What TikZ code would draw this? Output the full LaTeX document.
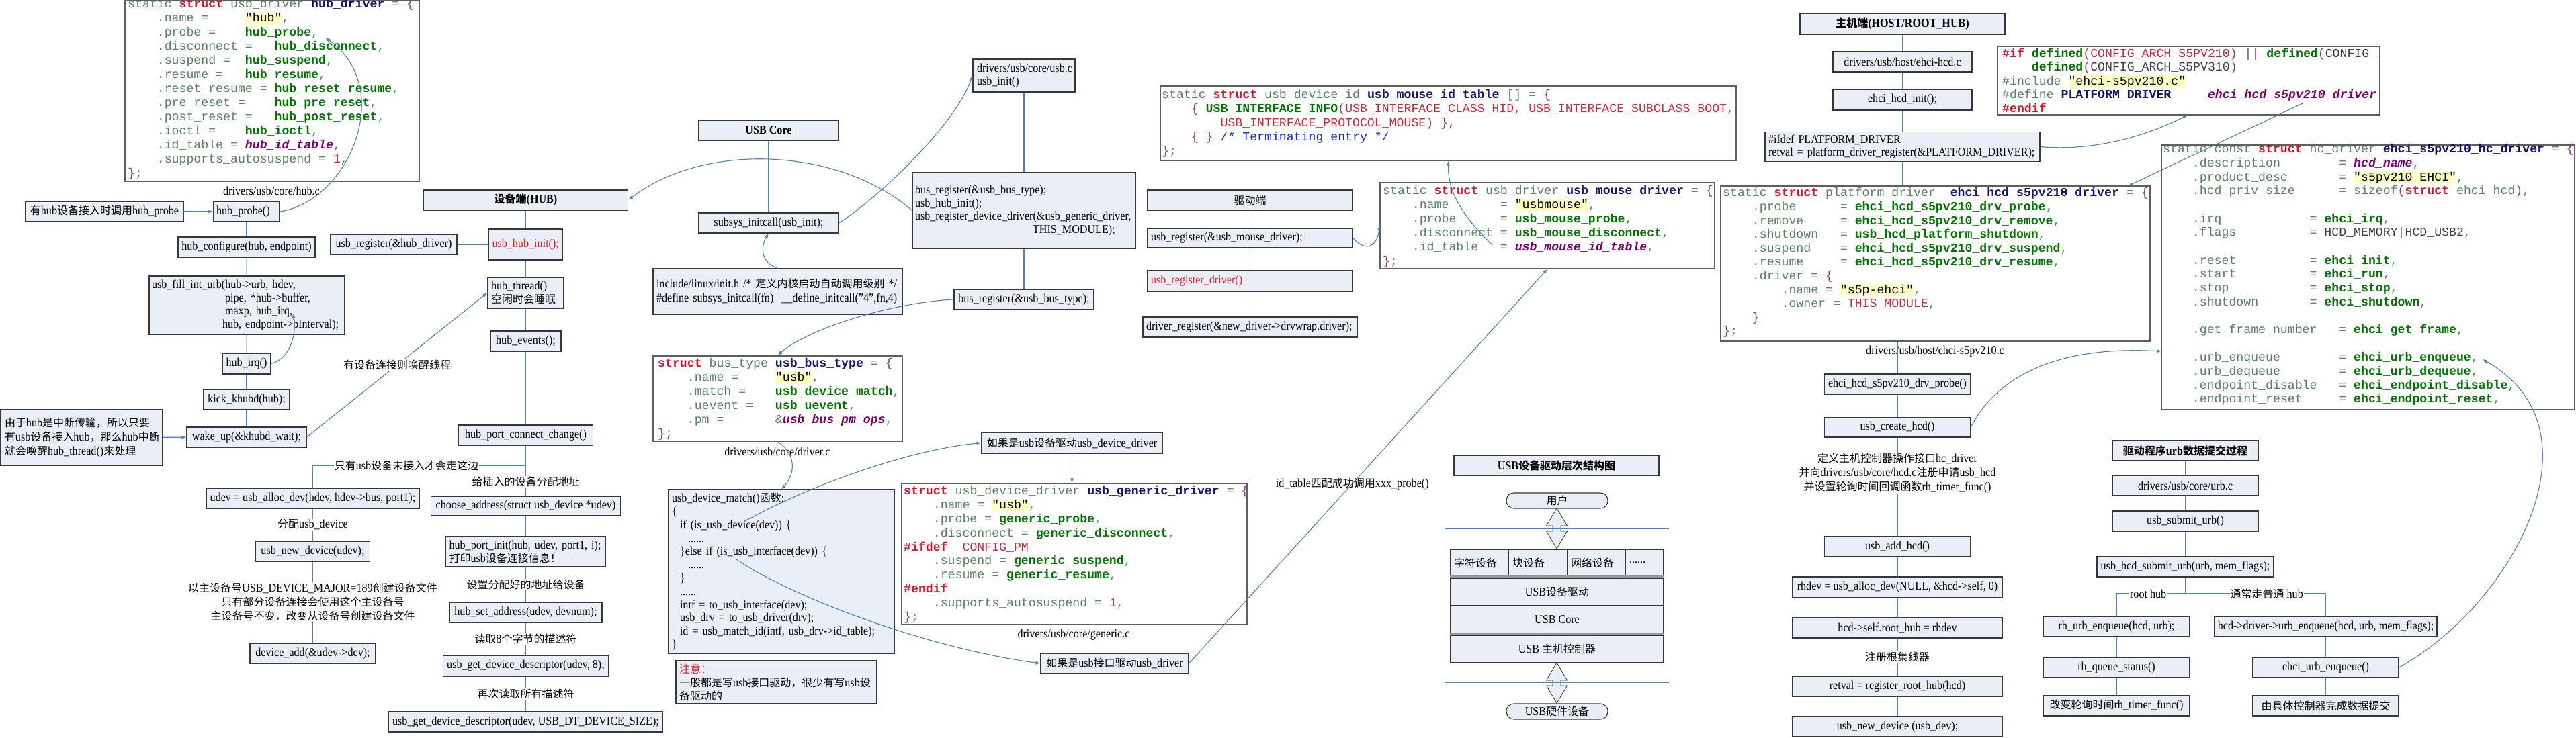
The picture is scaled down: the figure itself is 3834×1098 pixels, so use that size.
\documentclass[tikz,border=0pt]{standalone}
\usepackage{fontspec}
\setmainfont{Liberation Serif}[Scale=1.12,FakeStretch=0.9]
\newfontfamily\cjk{Noto Sans CJK SC}
\newfontfamily\codef{Liberation Mono}
\usetikzlibrary{arrows.meta,positioning}
\definecolor{boxfill}{RGB}{233,238,247}
\definecolor{boxline}{RGB}{55,55,55}
\definecolor{codeline}{RGB}{95,95,95}
\definecolor{linkc}{RGB}{79,129,189}
\definecolor{redtxt}{RGB}{230,30,40}
\definecolor{cplain}{RGB}{88,130,98}
\definecolor{colkw}{RGB}{215,20,45}
\definecolor{colid}{RGB}{20,20,110}
\definecolor{colfn}{RGB}{0,118,0}
\definecolor{colhl}{RGB}{255,255,195}
\definecolor{colmac}{RGB}{125,0,115}
\definecolor{colnum}{RGB}{205,40,60}
\definecolor{colbr}{RGB}{140,60,140}
\definecolor{colcmt}{RGB}{20,40,220}
\newlength\cw
\setlength\cw{10.92pt}
\newcommand\zh[1]{{\cjk #1}}
\newcommand\ckw[1]{\textcolor{colkw}{\bfseries #1}}
\newcommand\cnm[1]{\textcolor{colid}{\bfseries #1}}
\newcommand\cfn[1]{\textcolor{colfn}{\bfseries #1}}
\newcommand\cstr[1]{{\fboxsep=0pt\colorbox{colhl}{\rule[-4pt]{0pt}{18pt}\textcolor{black}{#1}}}}
\newcommand\cmac[1]{\textcolor{colmac}{\bfseries\itshape #1}}
\newcommand\cred[1]{\textcolor{colnum}{#1}}
\newcommand\cbra[1]{\textcolor{colbr}{#1}}
\newcommand\ccmt[1]{\textcolor{colcmt}{#1}}
\newcommand\csk[1]{\hspace*{#1\cw}}
\begin{document}
\catcode`\_=12
\begin{tikzpicture}[x=1pt,y=-1pt,
  >={Latex[length=7pt,width=5.5pt]},
  blk/.style={draw=boxline,fill=boxfill,line width=1.1pt,inner sep=4pt,align=center,font=\fontsize{16}{20}\selectfont},
  blkl/.style={blk,align=left,text width=#1},
  codebox/.style={draw=codeline,fill=white,line width=1.4pt,inner sep=0pt},
  codetext/.style={font=\codef\fontsize{18.2}{#1}\selectfont\frenchspacing,text=cplain,align=left,inner sep=0pt,anchor=north west,execute at begin node=\strut},
  codetext/.default=21,
  lbl/.style={font=\fontsize{16}{21}\selectfont,align=center,inner sep=1pt},
  lblw/.style={lbl,fill=white},
  conn/.style={draw=linkc,line width=1.1pt}]
\fill[white] (0,0) rectangle (3834,1098);
\useasboundingbox (0,0) rectangle (3834,1098);

% code listings
\node[codebox,minimum width=438pt,minimum height=269pt] (hubdrv) at (405,135.5) {};
\node[codetext] (hubdrvtxt) at (190,-1.7) {static \ckw{struct} usb_driver \cnm{hub_driver} = \cbra{\{}\\
\csk{4}.name =\csk{5}\cstr{"hub"},\\
\csk{4}.probe =\csk{4}\cfn{hub_probe},\\
\csk{4}.disconnect =\csk{3}\cfn{hub_disconnect},\\
\csk{4}.suspend =\csk{2}\cfn{hub_suspend},\\
\csk{4}.resume =\csk{3}\cfn{hub_resume},\\
\csk{4}.reset_resume = \cfn{hub_reset_resume},\\
\csk{4}.pre_reset =\csk{4}\cfn{hub_pre_reset},\\
\csk{4}.post_reset =\csk{3}\cfn{hub_post_reset},\\
\csk{4}.ioctl =\csk{4}\cfn{hub_ioctl},\\
\csk{4}.id_table = \cmac{hub_id_table},\\
\csk{4}.supports_autosuspend = \cred{1},\\
\cbra{\}};};
\node[lbl] (hubfile) at (404,284) {drivers/usb/core/hub.c};

\node[codebox,minimum width=371pt,minimum height=127pt] (bustype) at (1157.5,593.5) {};
\node[codetext] (bustypetxt) at (979,533.3) {\ckw{struct} bus_type \cnm{usb_bus_type} = \cbra{\{}\\
\csk{4}.name =\csk{5}\cstr{"usb"},\\
\csk{4}.match =\csk{4}\cfn{usb_device_match},\\
\csk{4}.uevent =\csk{3}\cfn{usb_uevent},\\
\csk{4}.pm =\csk{7}\&\cmac{usb_bus_pm_ops},\\
\cbra{\}};};
\node[lbl] (drvfile) at (1157,672) {drivers/usb/core/driver.c};

\node[codebox,minimum width=857pt,minimum height=111pt] (idtab) at (2155.5,183.5) {};
\node[codetext] (idtabtxt) at (1729,133.3) {static \ckw{struct} usb_device_id \cnm{usb_mouse_id_table} [] = \cbra{\{}\\
\csk{4}\cbra{\{} \cfn{USB_INTERFACE_INFO}\cbra{(}\cred{USB_INTERFACE_CLASS_HID, USB_INTERFACE_SUBCLASS_BOOT,}\\
\csk{8}\cred{USB_INTERFACE_PROTOCOL_MOUSE}\cbra{) \},}\\
\csk{4}\cbra{\{ \}} \ccmt{/* Terminating entry */}\\
\cbra{\}};};

\node[codebox,minimum width=498pt,minimum height=128pt] (mousedrv) at (2303,336) {};
\node[codetext] (mousedrvtxt) at (2058,276.3) {static \ckw{struct} usb_driver \cnm{usb_mouse_driver} = \cbra{\{}\\
\csk{4}.name\csk{7}= \cstr{"usbmouse"},\\
\csk{4}.probe\csk{6}= \cfn{usb_mouse_probe},\\
\csk{4}.disconnect = \cfn{usb_mouse_disconnect},\\
\csk{4}.id_table\csk{3}= \cmac{usb_mouse_id_table},\\
\cbra{\}};};

\node[codebox,minimum width=514pt,minimum height=210pt] (generic) at (1599,825) {};
\node[codetext=20.8] (generictxt) at (1345,723.4) {\ckw{struct} usb_device_driver \cnm{usb_generic_driver} = \cbra{\{}\\
\csk{4}.name = \cstr{"usb"},\\
\csk{4}.probe = \cfn{generic_probe},\\
\csk{4}.disconnect = \cfn{generic_disconnect},\\
\ckw{\#ifdef}\csk{2}\cred{CONFIG_PM}\\
\csk{4}.suspend = \cfn{generic_suspend},\\
\csk{4}.resume = \cfn{generic_resume},\\
\ckw{\#endif}\\
\csk{4}.supports_autosuspend = \cred{1},\\
\cbra{\}};};
\node[lbl] (genfile) at (1598,945) {drivers/usb/core/generic.c};

\node[codebox,minimum width=569pt,minimum height=102pt] (ifdef) at (3257.5,120) {};
\node[codetext=20.5] (ifdeftxt) at (2980,71.6) {\ckw{\#if} \cfn{defined}\cbra{(}\cred{CONFIG_ARCH_S5PV210}\cbra{)} \cbra{||} \cfn{defined}\cbra{(}\textcolor{black!75}{CONFIG_}\\
\csk{4}\cfn{defined}\cbra{(}\textcolor{black!75}{CONFIG_ARCH_S5PV310}\cbra{)}\\
\#include \cstr{"ehci-s5pv210.c"}\\
\#define \cnm{PLATFORM_DRIVER}\csk{5}\cmac{ehci_hcd_s5pv210_driver}\\
\ckw{\#endif}};

\node[codebox,minimum width=639pt,minimum height=231pt] (s5pdrv) at (2880.5,392.5) {};
\node[codetext=20.6] (s5pdrvtxt) at (2564,279.6) {static \ckw{struct} platform_driver\csk{2}\cnm{ehci_hcd_s5pv210_driver} = \cbra{\{}\\
\csk{4}.probe\csk{6}= \cfn{ehci_hcd_s5pv210_drv_probe},\\
\csk{4}.remove\csk{5}= \cfn{ehci_hcd_s5pv210_drv_remove},\\
\csk{4}.shutdown\csk{3}= \cfn{usb_hcd_platform_shutdown},\\
\csk{4}.suspend\csk{4}= \cfn{ehci_hcd_s5pv210_drv_suspend},\\
\csk{4}.resume\csk{5}= \cfn{ehci_hcd_s5pv210_drv_resume},\\
\csk{4}.driver = \cbra{\{}\\
\csk{8}.name = \cstr{"s5p-ehci"},\\
\csk{8}.owner = \cred{THIS_MODULE},\\
\csk{4}\cbra{\}}\\
\cbra{\}};};
\node[lbl] (s5pfile) at (2880,523) {drivers/usb/host/ehci-s5pv210.c};

\node[codebox,minimum width=615pt,minimum height=394pt] (hcdrv) at (3524.5,413) {};
\node[codetext=20.67] (hcdrvtxt) at (3219,214.5) {static const \ckw{struct} hc_driver \cnm{ehci_s5pv210_hc_driver} = \cbra{\{}\\
\csk{4}.description\csk{8}= \cmac{hcd_name},\\
\csk{4}.product_desc\csk{7}= \cstr{"s5pv210 EHCI"},\\
\csk{4}.hcd_priv_size\csk{6}= sizeof\cbra{(}\ckw{struct} ehci_hcd\cbra{)},\\
\strut\\
\csk{4}.irq\csk{12}= \cfn{ehci_irq},\\
\csk{4}.flags\csk{10}= \textcolor{black!75}{HCD_MEMORY}\cbra{|}\textcolor{black!75}{HCD_USB2},\\
\strut\\
\csk{4}.reset\csk{10}= \cfn{ehci_init},\\
\csk{4}.start\csk{10}= \cfn{ehci_run},\\
\csk{4}.stop\csk{11}= \cfn{ehci_stop},\\
\csk{4}.shutdown\csk{7}= \cfn{ehci_shutdown},\\
\strut\\
\csk{4}.get_frame_number\csk{3}= \cfn{ehci_get_frame},\\
\strut\\
\csk{4}.urb_enqueue\csk{8}= \cfn{ehci_urb_enqueue},\\
\csk{4}.urb_dequeue\csk{8}= \cfn{ehci_urb_dequeue},\\
\csk{4}.endpoint_disable\csk{3}= \cfn{ehci_endpoint_disable},\\
\csk{4}.endpoint_reset\csk{5}= \cfn{ehci_endpoint_reset},};

% hub side
\node[blk,minimum width=235pt,minimum height=30pt] (note1) at (155.5,315) {\zh{有}hub\zh{设备接入时调用}hub_probe};
\node[blkl=90pt,minimum width=98pt,minimum height=30pt] (hubprobe) at (367,315) {hub_probe()};
\node[blk,minimum width=204pt,minimum height=30pt] (hubcfg) at (367,368) {hub_configure(hub, endpoint)};
\node[blkl=283pt,minimum width=291pt,minimum height=87pt,font=\fontsize{16}{19.5}\selectfont] (fillurb) at (367.5,454.5) {\mbox{usb_fill_int_urb(hub->urb, hdev,}\\\hspace*{109pt}pipe, *hub->buffer,\\\hspace*{109pt}maxp, hub_irq,\\\hspace*{105pt}\mbox{hub, endpoint->bInterval);}};
\node[blk,minimum width=72pt,minimum height=31pt] (hubirq) at (367,541.5) {hub_irq()};
\node[blk,minimum width=128pt,minimum height=30pt] (kick) at (367,595) {kick_khubd(hub);};
\node[blk,minimum width=178pt,minimum height=30pt] (wake) at (367,651) {wake_up(\&khubd_wait);};
\node[blkl=229pt,minimum width=241pt,minimum height=83pt,font=\fontsize{16}{21}\selectfont] (note2) at (121.5,651.5) {\zh{由于}hub\zh{是中断传输，所以只要}\\\mbox{\zh{有}usb\zh{设备接入}hub\zh{，那么}hub\zh{中断}}\\\zh{就会唤醒}hub_thread()\zh{来处理}};
\node[blk,minimum width=317pt,minimum height=30pt] (udev) at (465.5,742) {udev = usb_alloc_dev(hdev, hdev->bus, port1);};
\node[blk,minimum width=170pt,minimum height=30pt] (newdev) at (465.5,821) {usb_new_device(udev);};
\node[blk,minimum width=187pt,minimum height=30pt] (devadd) at (465.5,973) {device_add(\&udev->dev);};

\node[blk,minimum width=304pt,minimum height=30pt] (hubtitle) at (782.5,298) {\bfseries\zh{设备端}(HUB)};
\node[blk,minimum width=188pt,minimum height=30pt] (usbreg) at (586,364) {usb_register(\&hub_driver)};
\node[blkl=100pt,minimum width=110pt,minimum height=46pt,text=redtxt] (hubinit) at (782.5,364) {usb_hub_init();};
\node[blkl=103pt,minimum width=113pt,minimum height=46pt] (thread) at (782.5,436) {hub_thread()\\\zh{空闲时会睡眠}};
\node[blk,minimum width=105pt,minimum height=30pt] (events) at (782.5,508) {hub_events();};
\node[blk,minimum width=200pt,minimum height=30pt] (portchg) at (782.5,648) {hub_port_connect_change()};
\node[blk,minimum width=282pt,minimum height=29pt] (choose) at (782.5,753.5) {choose_address(struct usb_device *udev)};
\node[blkl=228pt,minimum width=238pt,minimum height=45pt] (portinit) at (782.5,821.5) {\mbox{hub_port_init(hub, udev, port1, i);}\\\zh{打印}usb\zh{设备连接信息！}};
\node[blk,minimum width=227pt,minimum height=30pt] (setaddr) at (782.5,912) {hub_set_address(udev, devnum);};
\node[blk,minimum width=246pt,minimum height=31pt] (getdesc8) at (782.5,991.5) {usb_get_device_descriptor(udev, 8);};
\node[blk,minimum width=408pt,minimum height=30pt] (getdescall) at (782.5,1075) {usb_get_device_descriptor(udev, USB_DT_DEVICE_SIZE);};

% usb core
\node[blk,minimum width=208pt,minimum height=30pt] (coretitle) at (1144,194) {\bfseries USB Core};
\node[blk,minimum width=208pt,minimum height=30pt] (subsys) at (1144,332) {subsys_initcall(usb_init);};
\node[blkl=361pt,minimum width=371pt,minimum height=68pt,font=\fontsize{16}{21}\selectfont] (inith) at (1157.5,434) {\mbox{include/linux/init.h /* \zh{定义内核启动自动调用级别} */}\\\mbox{\#define subsys_initcall(fn)\ \ __define_initcall("4",fn,4)}};
\node[blkl=140pt,minimum width=152pt,minimum height=49pt,font=\fontsize{16}{19}\selectfont] (usbc) at (1524,112.5) {drivers/usb/core/usb.c\\usb_init()};
\node[blkl=324pt,minimum width=332pt,minimum height=113pt,font=\fontsize{16}{19.5}\selectfont] (big) at (1524,313.5) {bus_register(\&usb_bus_type);\\usb_hub_init();\\\mbox{usb_register_device_driver(\&usb_generic_driver,}\\\hspace*{175pt}THIS_MODULE);};
\node[blk,minimum width=208pt,minimum height=30pt] (busreg) at (1524,446) {bus_register(\&usb_bus_type);};
\node[blkl=326pt,minimum width=336pt,minimum height=244pt,inner ysep=2pt,font=\fontsize{16}{19.8}\selectfont] (match) at (1163,851) {usb_device_match()\zh{函数}:\\
\{\\
\hspace*{12pt}if (is_usb_device(dev)) \{\\
\hspace*{24pt}......\\
\hspace*{12pt}\mbox{\}else if (is_usb_interface(dev)) \{}\\
\hspace*{24pt}......\\
\hspace*{12pt}\}\\
\hspace*{12pt}......\\
\hspace*{12pt}intf = to_usb_interface(dev);\\
\hspace*{12pt}usb_drv = to_usb_driver(drv);\\
\hspace*{12pt}\mbox{id = usb_match_id(intf, usb_drv->id_table);}\\
\}};
\node[blkl=289pt,minimum width=299pt,minimum height=64pt] (note3) at (1155.5,1016) {\textcolor{redtxt}{\zh{注意：}}\\\mbox{\zh{一般都是写}usb\zh{接口驱动，很少有写}usb\zh{设}}\\\zh{备驱动的}};
\node[blk,minimum width=269pt,minimum height=31pt] (ifdev) at (1595.5,659.5) {\zh{如果是}usb\zh{设备驱动}usb_device_driver};
\node[blk,minimum width=220pt,minimum height=30pt] (ifintf) at (1659,988) {\zh{如果是}usb\zh{接口驱动}usb_driver};

% driver side
\node[blk,minimum width=305pt,minimum height=30pt] (drvtitle) at (1860.5,298) {\zh{驱动端}};
\node[blkl=295pt,minimum width=305pt,minimum height=29pt] (mousereg) at (1860.5,354.5) {usb_register(\&usb_mouse_driver);};
\node[blkl=295pt,minimum width=305pt,minimum height=31pt,text=redtxt] (regdrv) at (1860.5,418.5) {usb_register_driver()};
\node[blkl=309pt,minimum width=319pt,minimum height=30pt] (drvreg) at (1860.5,487) {\mbox{driver_register(\&new_driver->drvwrap.driver);}};

% layer diagram
\node[blk,minimum width=305pt,minimum height=30pt] (layertitle) at (2316.5,693) {\bfseries USB\zh{设备驱动层次结构图}};
\node[blk,rounded corners=11pt,minimum width=151pt,minimum height=23pt,inner sep=1pt] (user) at (2317.5,745.5) {\zh{用户}};
\node[blkl=76pt,minimum width=86pt,minimum height=40pt] (chardev) at (2202,838) {\zh{字符设备}};
\node[blkl=76pt,minimum width=88pt,minimum height=40pt] (blockdev) at (2289,838) {\zh{块设备}};
\node[blkl=76pt,minimum width=86pt,minimum height=40pt] (netdev) at (2376,838) {\zh{网络设备}};
\node[blkl=45pt,minimum width=57pt,minimum height=40pt] (moredev) at (2447.5,838) {......};
\node[blk,minimum width=317pt,minimum height=41pt] (drvlayer) at (2317.5,881.5) {USB\zh{设备驱动}};
\node[blk,minimum width=317pt,minimum height=42pt] (corelayer) at (2317.5,923) {USB Core};
\node[blk,minimum width=317pt,minimum height=41pt] (hcdlayer) at (2317.5,966.5) {USB \zh{主机控制器}};
\draw[line width=3pt,black!40] (chardev.south west) -- (moredev.south east);
\draw[line width=3pt,black!40] (corelayer.south west) -- (corelayer.south east);
\node[blk,rounded corners=11pt,minimum width=151pt,minimum height=23pt,inner sep=1pt] (hwdev) at (2317.5,1059.5) {USB\zh{硬件设备}};
\foreach \y in {757,987}
  \filldraw[fill=boxfill,draw=boxline,line width=0.8pt] (2317,\y) -- ++(15.5,26) -- ++(-9.5,0) -- ++(0,8) -- ++(9.5,0) -- (2317,\y+60) -- ++(-15.5,-26) -- ++(9.5,0) -- ++(0,-8) -- ++(-9.5,0) -- cycle;
\draw[conn] (2150,787) -- (2484,787);
\draw[conn] (2150,1016) -- (2484,1016);

% host side
\node[blk,minimum width=305pt,minimum height=31pt] (hosttitle) at (2831.5,35.5) {\bfseries\zh{主机端}(HOST/ROOT_HUB)};
\node[blk,minimum width=207pt,minimum height=30pt] (ehcihcd) at (2831.5,92) {drivers/usb/host/ehci-hcd.c};
\node[blk,minimum width=207pt,minimum height=31pt] (ehciinit) at (2831.5,148.5) {ehci_hcd_init();};
\node[blkl=399pt,minimum width=409pt,minimum height=43pt,font=\fontsize{16}{19}\selectfont] (ifdefplat) at (2831.5,218.5) {\#ifdef PLATFORM_DRIVER\\\mbox{retval = platform_driver_register(\&PLATFORM_DRIVER);}};
\node[blk,minimum width=217pt,minimum height=30pt] (drvprobe) at (2824,572) {ehci_hcd_s5pv210_drv_probe()};
\node[blk,minimum width=217pt,minimum height=29pt] (createhcd) at (2824,636.5) {usb_create_hcd()};
\node[blk,minimum width=217pt,minimum height=30pt] (addhcd) at (2824,814) {usb_add_hcd()};
\node[blk,minimum width=312pt,minimum height=31pt] (rhdev) at (2824,874.5) {rhdev = usb_alloc_dev(NULL, \&hcd->self, 0)};
\node[blk,minimum width=312pt,minimum height=30pt] (roothub) at (2824,935) {hcd->self.root_hub = rhdev};
\node[blk,minimum width=312pt,minimum height=30pt] (regroot) at (2824,1022) {retval = register_root_hub(hcd)};
\node[blk,minimum width=312pt,minimum height=30pt] (newdevb) at (2824,1082) {usb_new_device (usb_dev);};

% urb submit
\node[blk,minimum width=217pt,minimum height=30pt] (urbtitle) at (3252.5,671) {\bfseries\zh{驱动程序}urb\zh{数据提交过程}};
\node[blk,minimum width=217pt,minimum height=30pt] (urbc) at (3252.5,723) {drivers/usb/core/urb.c};
\node[blk,minimum width=217pt,minimum height=30pt] (submit) at (3252.5,776) {usb_submit_urb()};
\node[blk,minimum width=263pt,minimum height=30pt] (hcdsubmit) at (3252.5,844) {usb_hcd_submit_urb(urb, mem_flags);};
\node[blk,minimum width=218pt,minimum height=30pt] (rhenq) at (3150,933) {rh_urb_enqueue(hcd, urb);};
\node[blk,minimum width=218pt,minimum height=30pt] (rhq) at (3150,994) {rh_queue_status()};
\node[blk,minimum width=218pt,minimum height=30pt] (rhtimer) at (3150,1051) {\zh{改变轮询时间}rh_timer_func()};
\node[blk,minimum width=331pt,minimum height=30pt] (drvenq) at (3461.5,933) {hcd->driver->urb_enqueue(hcd, urb, mem_flags);};
\node[blk,minimum width=217pt,minimum height=30pt] (ehcienq) at (3461.5,994) {ehci_urb_enqueue()};
\node[blk,minimum width=217pt,minimum height=30pt] (ctrlsub) at (3461.5,1051) {\zh{由具体控制器完成数据提交}};

% connectors, hub side
\coordinate (hpt) at (484,56);
\coordinate (irqpt) at (436,467);
\coordinate (jn) at (782.5,693);
\draw[conn,->] (note1) -- (hubprobe);
\draw[conn,->] (hubprobe.east) .. controls (520,300) and (590,130) .. (hpt);
\draw[conn] (hubprobe) -- (hubcfg);
\draw[conn] (hubcfg) -- (fillurb);
\draw[conn] (fillurb) -- (hubirq);
\draw[conn,->] (hubirq.east) .. controls (430,535) and (442,500) .. (irqpt);
\draw[conn] (hubirq) -- (kick);
\draw[conn] (kick) -- (wake);
\draw[conn,->] (note2) -- (wake);
\draw[conn,->] (wake.east) -- node[lblw]{\zh{有设备连接则唤醒线程}} (thread.west);
\draw[conn] (hubtitle) -- (hubinit);
\draw[conn] (usbreg) -- (hubinit);
\draw[conn] (hubinit) -- (thread);
\draw[conn] (thread) -- (events);
\draw[conn] (events) -- (portchg);
\draw[conn] (portchg) -- node[lblw,pos=0.72]{\zh{给插入的设备分配地址}} (choose);
\draw[conn] (udev.north) |- node[lblw,pos=0.72]{\zh{只有}usb\zh{设备未接入才会走这边}} (jn);
\draw[conn] (udev) -- node[lblw]{\zh{分配}usb_device} (newdev);
\draw[conn] (newdev) -- node[lblw]{\zh{以主设备号}USB_DEVICE_MAJOR=189\zh{创建设备文件}\\\zh{只有部分设备连接会使用这个主设备号}\\\zh{主设备号不变，改变从设备号创建设备文件}} (devadd);
\draw[conn] (choose) -- (portinit);
\draw[conn] (portinit) -- node[lblw]{\zh{设置分配好的地址给设备}} (setaddr);
\draw[conn] (setaddr) -- node[lblw]{\zh{读取}8\zh{个字节的描述符}} (getdesc8);
\draw[conn] (getdesc8) -- node[lblw]{\zh{再次读取所有描述符}} (getdescall);

% connectors, core and driver
\coordinate (isdev) at (1107,777);
\coordinate (isintf) at (1096,833);
\coordinate (idpt) at (2221,365);
\draw[conn] (coretitle) -- (subsys);
\draw[conn,->] (inith.north) .. controls (1130,390) and (1133,365) .. (subsys.south);
\draw[conn,->] (subsys.east) .. controls (1300,300) and (1420,190) .. (usbc.west);
\draw[conn,->] (big.west) .. controls (1250,220) and (1050,210) .. (hubtitle.east);
\draw[conn] (usbc) -- (big);
\draw[conn] (big) -- (busreg);
\draw[conn,->] (busreg.west) .. controls (1330,450) and (1200,490) .. (bustype.north);
\draw[conn,->] (bustype.south) .. controls (1190,680) and (1180,710) .. (match.north);
\draw[conn,->] (isdev) .. controls (1200,725) and (1350,670) .. (ifdev.west);
\draw[conn,->] (isintf) .. controls (1180,890) and (1380,965) .. (ifintf.west);
\draw[conn,->] (ifdev.south) -- (ifdev.south |- generic.north);
\draw[conn,->] (ifintf.east) -- node[lbl,pos=0.456]{id_table\zh{匹配成功调用}xxx_probe()} (mousedrv.south);
\draw[conn] (drvtitle) -- (mousereg);
\draw[conn] (mousereg) -- (regdrv);
\draw[conn] (regdrv) -- (drvreg);
\draw[conn,->] (mousereg.east) .. controls (2035,378) and (2050,365) .. (mousedrv.west);
\draw[conn,->] (idpt) .. controls (2175,320) and (2155,285) .. (idtab.south);

% connectors, host and urb
\coordinate (ifb) at (3256,171);
\coordinate (drvname) at (3429,153);
\coordinate (s5ptop) at (3167,277);
\coordinate (hcl) at (3217,523);
\coordinate (split) at (3252.5,884);
\coordinate (enqpt) at (3695,535);
\draw[conn] (hosttitle) -- (ehcihcd);
\draw[conn] (ehcihcd) -- (ehciinit);
\draw[conn] (ehciinit) -- (ifdefplat);
\draw[conn] (ifdefplat.south) -- (ifdefplat.south |- s5pdrv.north);
\draw[conn] (drvprobe.north |- s5pdrv.south) -- (drvprobe.north);
\draw[conn,->] (ifdefplat.east) .. controls (3120,226) and (3200,200) .. (ifb);
\draw[conn,->] (drvname) -- (s5ptop);
\draw[conn] (drvprobe) -- (createhcd);
\draw[conn,->] (createhcd.east) .. controls (2975,555) and (3070,515) .. (hcl);
\draw[conn] (createhcd) -- node[lblw,pos=0.36]{\zh{定义主机控制器操作接口}hc_driver\\\zh{并向}drivers/usb/core/hcd.c\zh{注册申请}usb_hcd\\\zh{并设置轮询时间回调函数}rh_timer_func()} (addhcd);
\draw[conn] (addhcd) -- (rhdev);
\draw[conn] (rhdev) -- (roothub);
\draw[conn] (roothub) -- node[lblw]{\zh{注册根集线器}} (regroot);
\draw[conn] (regroot) -- (newdevb);
\draw[conn] (urbtitle) -- (urbc);
\draw[conn] (urbc) -- (submit);
\draw[conn] (submit) -- (hcdsubmit);
\draw[conn] (hcdsubmit) -- (split);
\draw[conn] (split) -| node[lblw,pos=0.27]{root hub} (rhenq);
\draw[conn] (split) -| node[lblw,pos=0.29]{\zh{通常走普通} hub} (drvenq);
\draw[conn] (rhenq) -- (rhq);
\draw[conn] (rhq) -- (rhtimer);
\draw[conn] (drvenq) -- (ehcienq);
\draw[conn] (ehcienq) -- (ctrlsub);
\draw[conn,->] (ehcienq.east) .. controls (3740,900) and (3880,640) .. (enqpt);
\end{tikzpicture}
\end{document}
